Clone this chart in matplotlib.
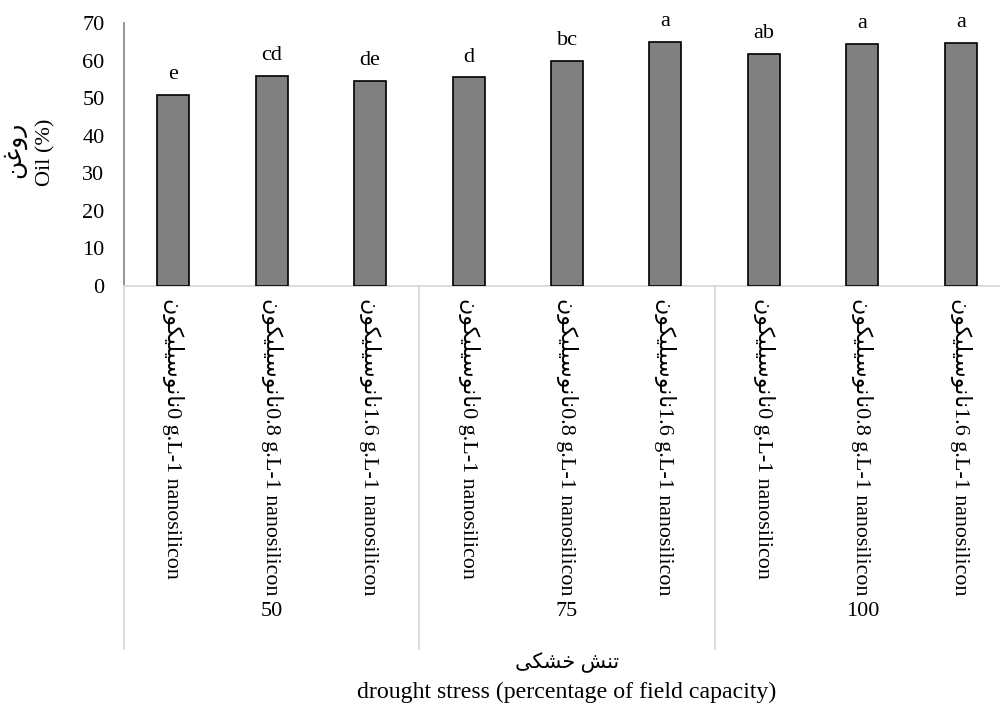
import matplotlib
matplotlib.use("Agg")
import matplotlib.pyplot as plt
from matplotlib.lines import Line2D
import matplotlib.transforms as mtransforms

plt.rcParams['font.family'] = ['Liberation Serif', 'DejaVu Sans']

# ---- data ----
doses = ["0 g.L-1 nanosilicon", "0.8 g.L-1 nanosilicon", "1.6 g.L-1 nanosilicon"]
dose_fa = "نانوسیلیکون"
groups = ["50", "75", "100"]
oil = [50.9, 56.0, 54.6, 55.5, 59.8, 64.9, 61.7, 64.4, 64.8]
letters = ["e", "cd", "de", "d", "bc", "a", "ab", "a", "a"]
ylabel_fa = "روغن"
ylabel_en = "Oil (%)"
xlabel_fa = "تنش خشکی"
xlabel_en = "drought stress (percentage of field capacity)"
yticks = [0, 10, 20, 30, 40, 50, 60, 70]

# ---- minimal Persian shaping (presentation forms, visual order) ----
FORMS = {
    'ا': ('\uFE8D', '\uFE8E', None, None),
    'ت': ('\uFE95', '\uFE96', '\uFE97', '\uFE98'),
    'خ': ('\uFEA5', '\uFEA6', '\uFEA7', '\uFEA8'),
    'ر': ('\uFEAD', '\uFEAE', None, None),
    'س': ('\uFEB1', '\uFEB2', '\uFEB3', '\uFEB4'),
    'ش': ('\uFEB5', '\uFEB6', '\uFEB7', '\uFEB8'),
    'غ': ('\uFECD', '\uFECE', '\uFECF', '\uFED0'),
    'ل': ('\uFEDD', '\uFEDE', '\uFEDF', '\uFEE0'),
    'ن': ('\uFEE5', '\uFEE6', '\uFEE7', '\uFEE8'),
    'و': ('\uFEED', '\uFEEE', None, None),
    'ک': ('\uFB8E', '\uFB8F', '\uFB90', '\uFB91'),
    'ی': ('\uFBFC', '\uFBFD', '\uFBFE', '\uFBFF'),
}


def dual(c):
    return c in FORMS and FORMS[c][2] is not None


def shape(text):
    out = []
    for i, c in enumerate(text):
        if c not in FORMS:
            out.append(c)
            continue
        prev = text[i - 1] if i > 0 else ''
        nxt = text[i + 1] if i + 1 < len(text) else ''
        join_prev = dual(prev)
        join_next = dual(c) and nxt in FORMS
        iso, fin, ini, med = FORMS[c]
        if join_prev and join_next:
            out.append(med)
        elif join_prev:
            out.append(fin)
        elif join_next:
            out.append(ini)
        else:
            out.append(iso)
    return ''.join(reversed(out))


W, H = 1000, 709
fig = plt.figure(figsize=(W / 100, H / 100), dpi=100)
ax_left, ax_right, ax_bottom, ax_top = 124, 1010, 286, 23
ax = fig.add_axes([ax_left / W, 1 - ax_bottom / H,
                   (ax_right - ax_left) / W, (ax_bottom - ax_top) / H])

n = len(oil)
x = list(range(n))
ax.bar(x, oil, width=0.325, color='#808080', edgecolor='black', linewidth=1.2, zorder=3)
for xi, v, lab in zip(x, oil, letters):
    ax.annotate(lab, (xi, v), xytext=(0, 11.5), textcoords='offset points',
                ha='center', va='baseline', fontsize=16, color='black')

ax.set_xlim(-0.5, n - 0.5)
ax.set_ylim(0, 70)
ax.set_yticks(yticks)
ax.set_yticklabels([str(t) for t in yticks], fontsize=16)

ticklabels = [shape(dose_fa) + d for _ in groups for d in doses]
ax.set_xticks(x)
ax.set_xticklabels(ticklabels, rotation=-90, fontsize=15.8, va='top', ha='center')
ax.tick_params(axis='x', length=0, pad=8.5)
ax.tick_params(axis='y', length=0, pad=14)

for s in ['top', 'right']:
    ax.spines[s].set_visible(False)
ax.spines['left'].set_color('#8c8c8c')
ax.spines['left'].set_linewidth(1.3)
ax.spines['bottom'].set_color('#d9d9d9')
ax.spines['bottom'].set_linewidth(1.3)

# group separators and group labels below the category labels
trans = mtransforms.blended_transform_factory(ax.transData, fig.transFigure)
y_top = 1 - ax_bottom / H
y_bot = 1 - 649 / H
for b in [-0.5, 2.5, 5.5, 8.5]:
    fig.add_artist(Line2D([b, b], [y_top, y_bot], transform=trans,
                          color='#d9d9d9', linewidth=1.3, clip_on=False))
for gi, g in enumerate(groups):
    fig.text(3 * gi + 1, 1 - 611 / H, g, transform=trans, ha='center', va='center',
             fontsize=16)

xc = (n - 1) / 2
fig.text(xc, 1 - 663 / H, shape(xlabel_fa), transform=trans, ha='center', va='center',
         fontsize=15)
fig.text(xc, 1 - 692 / H, xlabel_en, transform=trans, ha='center', va='center',
         fontsize=17.2)

# two-line y-axis title
fig.text(15 / W, 1 - 150 / H, shape(ylabel_fa), rotation=90,
         ha='center', va='center', fontsize=18)
fig.text(46 / W, 1 - 152 / H, ylabel_en, rotation=90,
         ha='center', va='center', fontsize=16)

fig.savefig("out.png", dpi=100)
